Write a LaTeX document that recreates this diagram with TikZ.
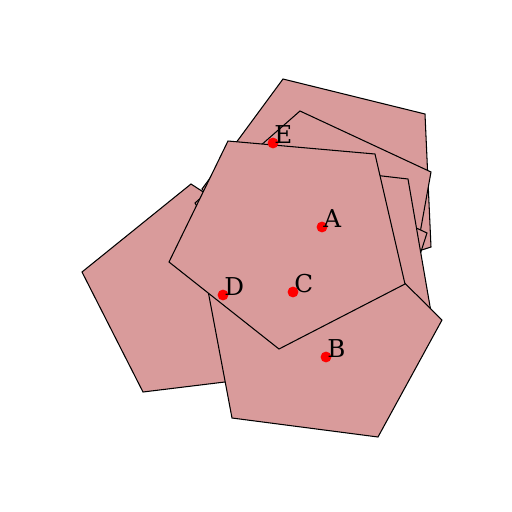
\documentclass[tikz,border=0pt]{standalone}
\usepackage{fontspec}
\setmainfont{DejaVu Serif}
\usepackage{xcolor}
\usepackage{tikz}
\definecolor{pentfill}{HTML}{D99B9B}
\definecolor{ptred}{HTML}{FF0000}

\begin{document}
\begin{tikzpicture}[x=0.02cm,y=-0.02cm,
  pent/.style={fill=pentfill,draw=black,line width=0.6pt,line join=miter},
  dot/.style={circle,fill=ptred,minimum size=6.2pt,inner sep=0pt},
  lab/.style={anchor=base west,inner sep=0pt,font=\fontsize{14}{16}\selectfont}]
  \useasboundingbox (0,0) rectangle (512,512);
  % pentagons, back to front
  \filldraw[pent] (191,184) -- (82,272) -- (143,392) -- (282,375) -- (308,260) -- cycle;
  \filldraw[pent] (283,79) -- (425,114) -- (431,247) -- (295,291) -- (202,189) -- cycle;
  \filldraw[pent] (300,111) -- (431,172) -- (408,300) -- (265,318) -- (195,203) -- cycle;
  \filldraw[pent] (296,172) -- (427,233) -- (386,360) -- (261,379) -- (195,262) -- cycle;
  \filldraw[pent] (262,162) -- (408,179) -- (431,312) -- (302,372) -- (200,278) -- cycle;
  \filldraw[pent] (232,418) -- (378,437) -- (442,320) -- (333,212) -- (206,280) -- cycle;
  \filldraw[pent] (228,141) -- (375,154) -- (405,284) -- (279,349) -- (169,262) -- cycle;
  % points
  \node[dot] (pa) at (322,227) {};
  \node[dot] (pb) at (326,357) {};
  \node[dot] (pc) at (293,292) {};
  \node[dot] (pd) at (223,295) {};
  \node[dot] (pe) at (273,143) {};
  % labels
  \node[lab,xshift=0.6pt] (la) at (pa.center) {A};
  \node[lab,xshift=0.6pt] (lb) at (pb.center) {B};
  \node[lab,xshift=0.6pt] (lc) at (pc.center) {C};
  \node[lab,xshift=0.6pt] (ld) at (pd.center) {D};
  \node[lab,xshift=0.6pt] (le) at (pe.center) {E};
\end{tikzpicture}
\end{document}
